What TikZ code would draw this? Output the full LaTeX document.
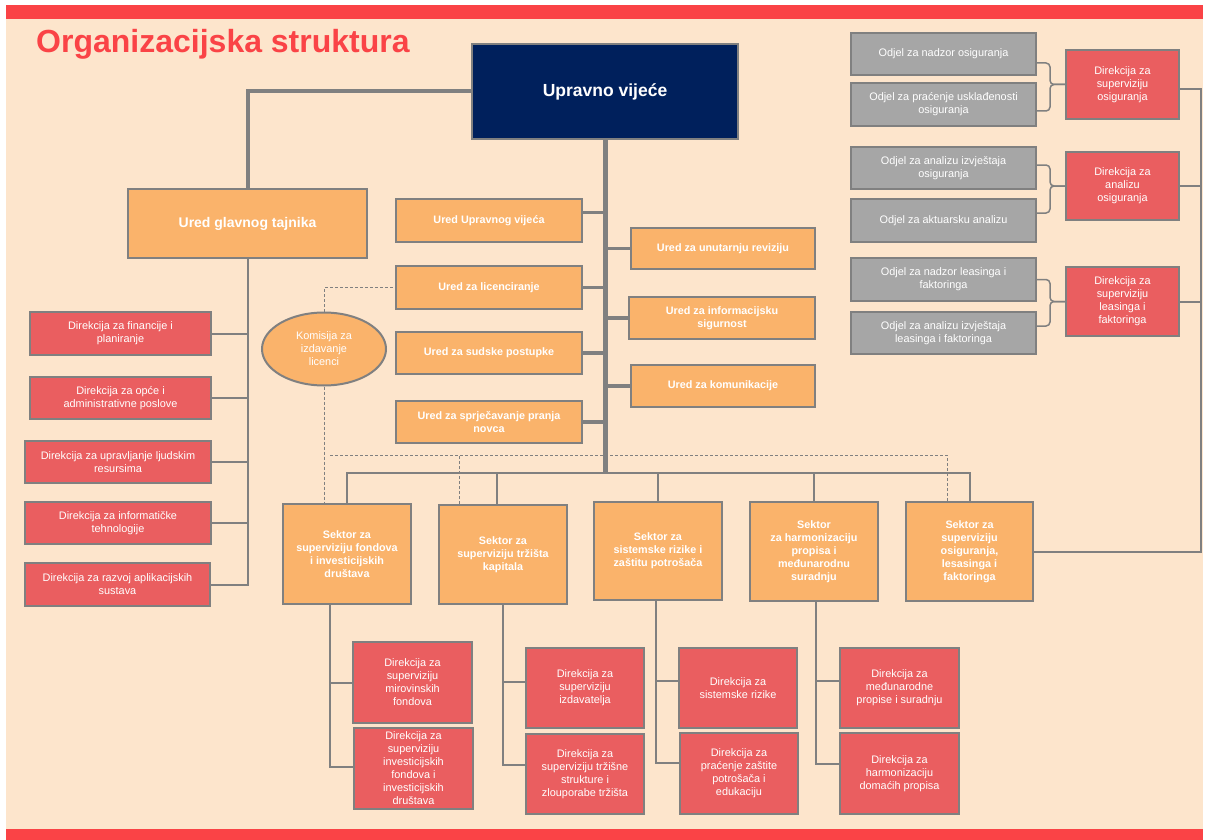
\documentclass[tikz,border=0pt]{standalone}
\usepackage{fontspec}
\setmainfont{Liberation Sans}
\usetikzlibrary{shapes.geometric,calc}
\definecolor{peach}{HTML}{FDE5CC}
\definecolor{barred}{HTML}{FA4346}
\definecolor{navyc}{HTML}{00205C}
\definecolor{orangec}{HTML}{FAB36B}
\definecolor{redc}{HTML}{EA5E60}
\definecolor{grayc}{HTML}{A6A6A6}
\definecolor{linec}{HTML}{808080}
\newcommand\mybox[7]{%
  \pgfmathsetmacro\myW{#5-#3}\pgfmathsetmacro\myH{#6-#4}%
  \pgfmathsetmacro\myCx{(#3+#5)/2}\pgfmathsetmacro\myCy{(#4+#6)/2}%
  \node[#1, minimum width=\myW pt, minimum height=\myH pt] (#2) at (\myCx,\myCy) {#7};}
\tikzset{
  basebox/.style={draw=linec, line width=2pt, text=white, align=center, inner sep=1pt},
  navybox/.style={basebox, fill=navyc, font=\bfseries\fontsize{17.5}{21}\selectfont},
  obox/.style={basebox, fill=orangec, font=\bfseries\fontsize{10.8}{13}\selectfont},
  bigobox/.style={basebox, fill=orangec, font=\bfseries\fontsize{14}{17}\selectfont},
  rbox/.style={basebox, fill=redc, font=\fontsize{10.9}{13}\selectfont},
  gbox/.style={basebox, fill=grayc, font=\fontsize{10.9}{13}\selectfont},
  ellbox/.style={basebox, ellipse, fill=orangec, font=\fontsize{10.9}{13}\selectfont, inner sep=0pt},
  ln/.style={draw=linec, line width=2pt},
  thickln/.style={draw=linec, line width=4pt},
  mainln/.style={draw=linec, line width=5pt},
  brln/.style={draw=linec, line width=3.5pt},
  brk/.style={draw=linec, line width=1.5pt, rounded corners=4pt},
  dsh/.style={draw=linec, line width=1pt, dash pattern=on 3pt off 2pt},
}
\begin{document}
\begin{tikzpicture}[x=1pt,y=-1pt]
\useasboundingbox (0,0) rectangle (1207,840);
\fill[white] (0,0) rectangle (1207,840);
\fill[peach] (6,5) rectangle (1203,840);
\fill[barred] (6,5) rectangle (1203,19);
\fill[barred] (6,829) rectangle (1203,840);
\node[anchor=base west, inner sep=0pt, text=barred, font=\bfseries\fontsize{32}{36}\selectfont] (title) at (36,53) {Organizacijska struktura};

% top
\mybox{navybox}{uv}{472}{44}{738}{139}{Upravno vijeće}
\mybox{bigobox}{ugt}{128}{189}{367}{258}{Ured glavnog tajnika}

% left directorates
\mybox{rbox}{d1}{30}{312}{211}{355}{Direkcija za financije i\\planiranje}
\mybox{rbox}{d2}{30}{377}{211}{419}{Direkcija za opće i\\administrativne poslove}
\mybox{rbox}{d3}{25}{441}{211}{483}{Direkcija za upravljanje ljudskim\\resursima}
\mybox{rbox}{d4}{25}{502}{211}{544}{Direkcija za informatičke\\tehnologije}
\mybox{rbox}{d5}{25}{563}{210}{606}{Direkcija za razvoj aplikacijskih\\sustava}

% central offices
\mybox{obox}{uuv}{396}{199}{582}{242}{Ured Upravnog vijeća}
\mybox{obox}{ul}{396}{266}{582}{309}{Ured za licenciranje}
\mybox{obox}{us}{396}{332}{582}{374}{Ured za sudske postupke}
\mybox{obox}{up}{396}{401}{582}{443}{Ured za sprječavanje pranja\\novca}
\mybox{obox}{ur}{631}{228}{815}{269}{Ured za unutarnju reviziju}
\mybox{obox}{ui}{629}{297}{815}{339}{Ured za informacijsku\\sigurnost}
\mybox{obox}{uk}{631}{365}{815}{407}{Ured za komunikacije}
\node[ellbox, minimum width=124pt, minimum height=73pt] (kom) at (324,349) {Komisija za\\izdavanje\\licenci};

% sectors
\mybox{obox}{s1}{283}{504}{411}{604}{Sektor za\\superviziju fondova\\i investicijskih\\društava}
\mybox{obox}{s2}{439}{505}{567}{604}{Sektor za\\superviziju tržišta\\kapitala}
\mybox{obox}{s3}{594}{502}{722}{600}{Sektor za\\sistemske rizike i\\zaštitu potrošača}
\mybox{obox}{s4}{750}{502}{878}{601}{Sektor\\za harmonizaciju\\propisa i\\međunarodnu\\suradnju}
\mybox{obox}{s5}{906}{502}{1033}{601}{Sektor za\\superviziju\\osiguranja,\\lesasinga i\\faktoringa}

% bottom directorates
\mybox{rbox}{e1a}{353}{642}{472}{723}{Direkcija za\\superviziju\\mirovinskih\\fondova}
\mybox{rbox}{e1b}{354}{728}{473}{809}{Direkcija za\\superviziju\\investicijskih\\fondova i\\investicijskih\\društava}
\mybox{rbox}{e2a}{526}{648}{644}{728}{Direkcija za\\superviziju\\izdavatelja}
\mybox{rbox}{e2b}{526}{734}{644}{814}{Direkcija za\\superviziju tržišne\\strukture i\\zlouporabe tržišta}
\mybox{rbox}{e3a}{679}{648}{797}{728}{Direkcija za\\sistemske rizike}
\mybox{rbox}{e3b}{680}{733}{798}{814}{Direkcija za\\praćenje zaštite\\potrošača i\\edukaciju}
\mybox{rbox}{e4a}{840}{648}{959}{728}{Direkcija za\\međunarodne\\propise i suradnju}
\mybox{rbox}{e4b}{840}{733}{959}{814}{Direkcija za\\harmonizaciju\\domaćih propisa}

% right groups
\mybox{gbox}{g1}{851}{33}{1036}{75}{Odjel za nadzor osiguranja}
\mybox{gbox}{g2}{851}{83}{1036}{126}{Odjel za praćenje usklađenosti\\osiguranja}
\mybox{gbox}{g3}{851}{147}{1036}{189}{Odjel za analizu izvještaja\\osiguranja}
\mybox{gbox}{g4}{851}{199}{1036}{242}{Odjel za aktuarsku analizu}
\mybox{gbox}{g5}{851}{258}{1036}{301}{Odjel za nadzor leasinga i\\faktoringa}
\mybox{gbox}{g6}{851}{312}{1036}{354}{Odjel za analizu izvještaja\\leasinga i faktoringa}
\mybox{rbox}{r1}{1066}{50}{1179}{119}{Direkcija za\\superviziju\\osiguranja}
\mybox{rbox}{r2}{1066}{152}{1179}{220}{Direkcija za\\analizu\\osiguranja}
\mybox{rbox}{r3}{1066}{267}{1179}{336}{Direkcija za\\superviziju\\leasinga i\\faktoringa}

% connectors: top
\draw[thickln] (uv.west) -| (ugt.north);
\draw[ln] (ugt.south) -- (ugt.south |- d5.east) -- (d5.east);
\foreach \n in {d1,d2,d3,d4} \draw[ln] (\n.east) -- (\n.east -| ugt.south);

\coordinate (bus) at (605,473);
\draw[mainln] (uv.south) -- (bus);
\draw[brln] ([yshift=8pt]uuv.east) -- ([yshift=8pt]uuv.east -| uv.south);
\foreach \n in {ul,us,up} \draw[brln] (\n.east) -- (\n.east -| uv.south);
\foreach \n in {ur,ui,uk} \draw[brln] (\n.west) -- (\n.west -| uv.south);

\draw[ln] (s1.north) |- (bus) -| (s5.north);
\coordinate (s2u) at ([xshift=-6pt]s2.north);
\draw[ln] (s2u) -- (s2u |- bus);
\foreach \n in {s3,s4} \draw[ln] (\n.north) -- (\n.north |- bus);

% sectors to directorates
\coordinate (s1d) at ([xshift=-17pt]s1.south);
\coordinate (s3d) at ([xshift=-2pt]s3.south);
\coordinate (s4d) at ([xshift=2pt]s4.south);
\draw[ln] (s1d) |- ([yshift=2pt]e1b.west);
\draw[ln] (e1a.west) -- (e1a.west -| s1d);
\draw[ln] (s2.south) |- ([yshift=9pt]e2b.west);
\draw[ln] ([yshift=6pt]e2a.west) -- ([yshift=6pt]e2a.west -| s2.south);
\draw[ln] (s3d) |- ([yshift=11pt]e3b.west);
\draw[ln] ([yshift=7pt]e3a.west) -- ([yshift=7pt]e3a.west -| s3d);
\draw[ln] (s4d) |- ([yshift=10pt]e4b.west);
\draw[ln] ([yshift=7pt]e4a.west) -- ([yshift=7pt]e4a.west -| s4d);

% right side
\coordinate (rv) at ([xshift=21pt,yshift=-4.5pt]r1.east);
\draw[ln] (s5.east) -| (rv) -- ([yshift=-4.5pt]r1.east);
\draw[ln] (r2.east) -- (r2.east -| rv);
\draw[ln] (r3.east) -- (r3.east -| rv);

\coordinate (b1) at ([xshift=-15pt]r1.west);
\coordinate (b2) at ([xshift=-15pt]r2.west);
\coordinate (b3) at ([xshift=-15pt]r3.west);
\draw[brk] ([yshift=-9pt]g1.east) -| (b1) -- (r1.west);
\draw[brk] ([yshift=-6.5pt]g2.east) -| (b1) -- (r1.west);
\draw[brk] ([yshift=3pt]g3.east) -| (b2) -- (r2.west);
\draw[brk] ([yshift=7.5pt]g4.east) -| (b2) -- (r2.west);
\draw[brk] (g5.east) -| (b3) -- (r3.west);
\draw[brk] ([yshift=7pt]g6.east) -| (b3) -- (r3.west);

% dashed
\draw[dsh] (kom.north) |- (ul.west);
\draw[dsh] (kom.south) -- (kom.south |- s1.north);
\coordinate (dj) at (330,455);
\coordinate (s5u) at ([xshift=-22.5pt]s5.north);
\coordinate (s2v) at ([xshift=-44pt]s2.north);
\draw[dsh] (dj) -| (s5u);
\draw[dsh] (s2v) -- (s2v |- dj);
\end{tikzpicture}
\end{document}
